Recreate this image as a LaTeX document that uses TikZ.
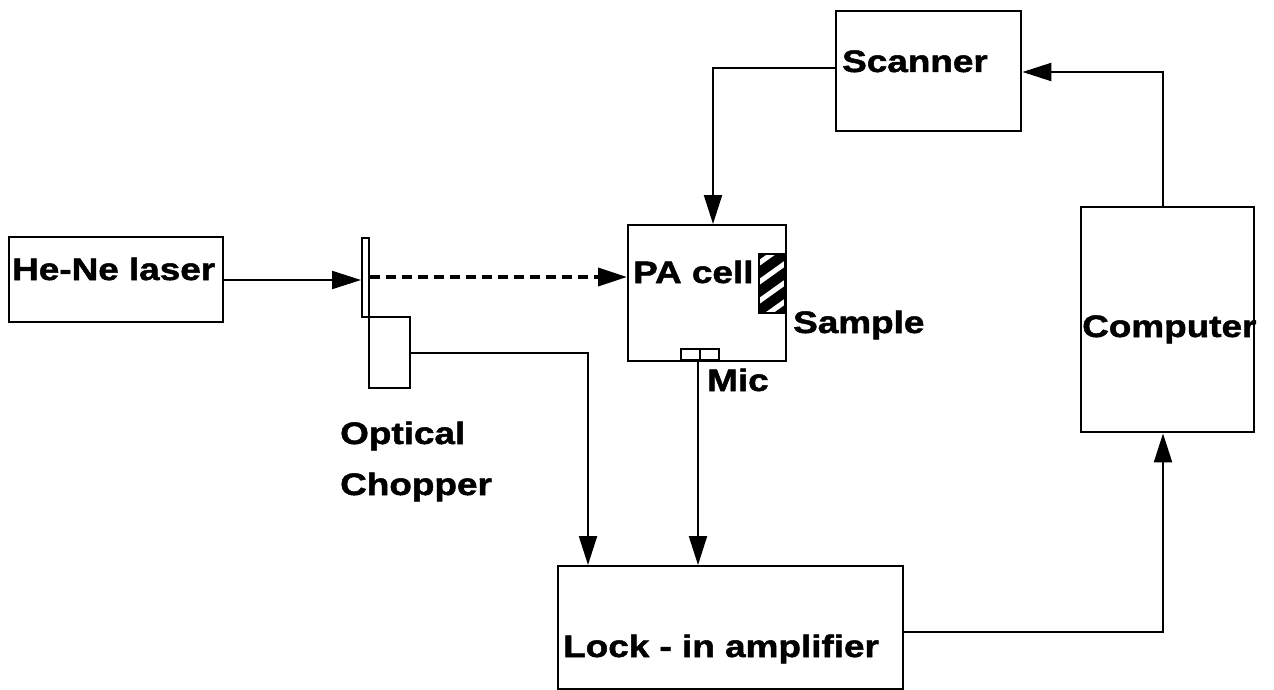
\documentclass[tikz,border=0pt]{standalone}
\usepackage{fontspec}
\newfontfamily\labfont{Liberation Sans}[FakeStretch=1.19, BoldFeatures={FakeBold=1.6}]
\usetikzlibrary{arrows.meta}
\tikzset{
  box/.style={draw, line width=2.4pt, inner sep=0pt, anchor=north west},
  lab/.style={inner sep=0pt, anchor=base west, font=\labfont\bfseries\fontsize{31}{36}\selectfont},
  wire/.style={line width=2.2pt},
  arr/.style={wire, -{Triangle[length=29pt,width=18pt]}},
  dasharr/.style={line width=3.8pt, dash pattern=on 10pt off 6pt, -{Triangle[length=29pt,width=18pt]}}
}
\begin{document}
\begin{tikzpicture}[x=1pt,y=-1pt]
\useasboundingbox (0,0) rectangle (1274,690);
% boxes
\node[box, minimum width=214pt, minimum height=85pt] (laser) at (8,236) {};
\node[box, minimum width=7pt, minimum height=79pt] (blade) at (361,237) {};
\node[box, minimum width=41pt, minimum height=71pt] (chopper) at (368,316) {};
\node[box, minimum width=158pt, minimum height=136pt] (pacell) at (627,224) {};
\node[box, minimum width=185pt, minimum height=120pt] (scanner) at (835,10) {};
\node[box, minimum width=173pt, minimum height=225pt] (computer) at (1080,206) {};
\node[box, minimum width=345pt, minimum height=123pt] (lockin) at (557,565) {};
% sample (hatched)
\node[inner sep=0pt, anchor=north west, minimum width=26pt, minimum height=59pt] (sample) at (759,254) {};
\begin{scope}
  \clip (759,254) rectangle (785,313);
  \fill[black] (759,254) rectangle (785,313);
  \foreach \k in {0,1,2,3} {
    \draw[white, line width=5pt] (755,{266+\k*19}) -- (790,{241+\k*19});
  }
\end{scope}
\draw[line width=2.4pt] (759,254) rectangle (785,313);
% mic
\node[box, fill=white, minimum width=38pt, minimum height=11pt] (mic) at (680,348) {};
\draw[line width=1.8pt] (mic.north) -- (mic.south);
% texts
\node[lab] (tlaser) at (12,280) {He-Ne laser};
\node[lab] (tpa) at (633,283) {PA cell};
\node[lab] (tsample) at (793,333) {Sample};
\node[lab] (tmic) at (707,391) {Mic};
\node[lab] (topt) at (340,444) {Optical};
\node[lab] (tchop) at (340,495) {Chopper};
\node[lab] (tscan) at (842,72) {Scanner};
\node[lab] (tcomp) at (1082,337) {Computer};
\node[lab] (tlock) at (563,657) {Lock - in amplifier};
% connectors
\draw[arr] (laser.east |- 0,280) -- (blade.west |- 0,280);
\draw[dasharr] (blade.east |- 0,277) -- (pacell.west |- 0,277);
\draw[arr] (chopper.east |- 0,353) -- (588,353) -- (lockin.north -| 588,0);
\draw[arr] (mic.south -| 698,0) -- (lockin.north -| 698,0);
\draw[arr] (lockin.east |- 0,632) -- (1163,632) -- (computer.south -| 1163,0);
\draw[arr] (computer.north -| 1163,0) -- (1163,72) -- (scanner.east |- 0,72);
\draw[arr] (scanner.west |- 0,68) -- (713,68) -- (pacell.north -| 713,0);
\end{tikzpicture}
\end{document}
